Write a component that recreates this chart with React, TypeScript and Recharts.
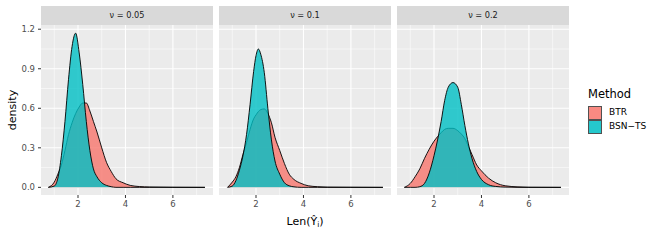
import { AreaChart, Area, XAxis, YAxis, CartesianGrid } from "recharts";

// density estimates, one grid of x values per facet
const P1_X = [0.75, 1.0, 1.15, 1.3, 1.45, 1.6, 1.75, 1.9, 2.05, 2.2, 2.35, 2.5, 2.65, 2.8, 3.0, 3.2, 3.4, 3.6, 3.9, 4.2, 4.6, 5.0, 6.0, 7.35];
const P1_BTR = [0, 0.04, 0.1, 0.17, 0.28, 0.4, 0.49, 0.56, 0.61, 0.64, 0.64, 0.58, 0.5, 0.42, 0.3, 0.19, 0.12, 0.065, 0.035, 0.015, 0.006, 0.003, 0.001, 0];
const P1_BSN = [0, 0.01, 0.07, 0.24, 0.5, 0.82, 1.07, 1.17, 1.02, 0.78, 0.5, 0.28, 0.14, 0.08, 0.035, 0.015, 0.005, 0, 0, 0, 0, 0, 0, 0];

const P2_X = [0.8, 1.0, 1.15, 1.3, 1.45, 1.6, 1.75, 1.9, 2.0, 2.1, 2.2, 2.35, 2.5, 2.65, 2.8, 3.0, 3.2, 3.4, 3.6, 3.9, 4.2, 4.6, 5.0, 6.0, 7.35];
const P2_BTR = [0, 0.04, 0.08, 0.15, 0.25, 0.34, 0.44, 0.52, 0.55, 0.575, 0.59, 0.595, 0.56, 0.49, 0.38, 0.28, 0.18, 0.1, 0.06, 0.03, 0.012, 0.005, 0.002, 0.001, 0];
const P2_BSN = [0, 0.01, 0.05, 0.13, 0.24, 0.4, 0.63, 0.88, 1.0, 1.05, 1.01, 0.87, 0.6, 0.36, 0.2, 0.1, 0.035, 0.012, 0.004, 0, 0, 0, 0, 0, 0];

const P3_X = [0.75, 1.0, 1.2, 1.4, 1.6, 1.8, 2.0, 2.15, 2.3, 2.45, 2.6, 2.8, 3.0, 3.15, 3.3, 3.45, 3.6, 3.8, 4.0, 4.3, 4.6, 5.0, 5.5, 6.0, 7.35];
const P3_BTR = [0, 0.03, 0.08, 0.14, 0.22, 0.29, 0.35, 0.385, 0.415, 0.44, 0.448, 0.448, 0.43, 0.405, 0.37, 0.31, 0.25, 0.17, 0.125, 0.07, 0.035, 0.012, 0.004, 0.001, 0];
const P3_BSN = [0, 0, 0, 0.005, 0.03, 0.11, 0.24, 0.36, 0.5, 0.66, 0.76, 0.795, 0.76, 0.63, 0.47, 0.33, 0.22, 0.12, 0.06, 0.02, 0.007, 0.002, 0, 0, 0];

const PANEL_LABELS = ["ν = 0.05", "ν = 0.1", "ν = 0.2"];
const METHODS = ["BTR", "BSN−TS"];

const X_TICKS = [2, 4, 6];
const X_MINOR = [1, 3, 5, 7];
const Y_TICKS = [0, 0.3, 0.6, 0.9, 1.2];
const Y_MINOR = [0.15, 0.45, 0.75, 1.05];

const X_DOMAIN = [0.44, 7.69];
const Y_DOMAIN = [-0.058, 1.232];

const RED = "#F8766D";
const TEAL = "#00BFC4";
const FONT = "'DejaVu Sans', sans-serif";

const toRows = (xs: number[], btr: number[], bsn: number[]) =>
  xs.map((x, i) => ({ x, btr: btr[i], bsn: bsn[i] }));

const PANELS = [
  toRows(P1_X, P1_BTR, P1_BSN),
  toRows(P2_X, P2_BTR, P2_BSN),
  toRows(P3_X, P3_BTR, P3_BSN),
];

const PLOT_W = 172;
const PLOT_TOP = 25;
const PLOT_H = 170;
const PANEL_LEFT = [41, 219, 397];
const Y_AXIS_W = 41;

const Panel = ({ data, showY }: { data: any[]; showY: boolean }) => (
  <AreaChart
    width={showY ? PLOT_W + Y_AXIS_W : PLOT_W}
    height={PLOT_TOP + PLOT_H + 20}
    data={data}
    margin={{ top: PLOT_TOP, right: 0, bottom: 0, left: 0 }}
  >
    <CartesianGrid
      stroke="#FFFFFF"
      strokeWidth={0.55}
      horizontalValues={Y_MINOR}
      verticalValues={X_MINOR}
    />
    <CartesianGrid
      stroke="#FFFFFF"
      strokeWidth={1.1}
      horizontalValues={Y_TICKS}
      verticalValues={X_TICKS}
    />
    <XAxis
      dataKey="x"
      type="number"
      domain={X_DOMAIN}
      allowDataOverflow
      ticks={X_TICKS}
      interval={0}
      height={20}
      axisLine={false}
      tickSize={3}
      tickMargin={3}
      tickLine={{ stroke: "#333333" }}
      tick={{ fontSize: 8.5, fill: "#4D4D4D", fontFamily: FONT }}
    />
    <YAxis
      type="number"
      domain={Y_DOMAIN}
      allowDataOverflow
      ticks={Y_TICKS}
      interval={0}
      hide={!showY}
      width={Y_AXIS_W}
      axisLine={false}
      tickSize={3}
      tickMargin={3}
      tickLine={{ stroke: "#333333" }}
      tickFormatter={(v: number) => v.toFixed(1)}
      tick={{ fontSize: 8.5, fill: "#4D4D4D", fontFamily: FONT }}
    />
    <Area
      type="monotone"
      dataKey="btr"
      baseValue={0}
      stroke="#000000"
      strokeWidth={0.9}
      fill={RED}
      fillOpacity={0.8}
      dot={false}
      activeDot={false}
      isAnimationActive={false}
    />
    <Area
      type="monotone"
      dataKey="bsn"
      baseValue={0}
      stroke="#000000"
      strokeWidth={0.9}
      fill={TEAL}
      fillOpacity={0.8}
      dot={false}
      activeDot={false}
      isAnimationActive={false}
    />
  </AreaChart>
);

export default function App() {
  return (
    <div
      style={{
        position: "absolute",
        left: 0,
        top: 0,
        width: 660,
        height: 240,
        background: "#FFFFFF",
        fontFamily: FONT,
        overflow: "hidden",
      }}
    >
      {PANELS.map((rows, i) => (
        <div key={i}>
          {/* panel background */}
          <div
            style={{
              position: "absolute",
              left: PANEL_LEFT[i],
              top: PLOT_TOP,
              width: PLOT_W,
              height: PLOT_H,
              background: "#EBEBEB",
            }}
          />
          {/* strip */}
          <div
            style={{
              position: "absolute",
              left: PANEL_LEFT[i],
              top: 6,
              width: PLOT_W,
              height: 19,
              background: "#D9D9D9",
              color: "#1A1A1A",
              fontSize: 8.2,
              lineHeight: "19px",
              textAlign: "center",
            }}
          >
            {PANEL_LABELS[i]}
          </div>
          <div
            style={{
              position: "absolute",
              left: i === 0 ? 0 : PANEL_LEFT[i],
              top: 0,
            }}
          >
            <Panel data={rows} showY={i === 0} />
          </div>
        </div>
      ))}

      {/* y axis title */}
      <div
        style={{
          position: "absolute",
          left: 12,
          top: 110,
          transform: "translate(-50%, -50%) rotate(-90deg)",
          fontSize: 11,
          color: "#000000",
          whiteSpace: "nowrap",
        }}
      >
        density
      </div>

      {/* x axis title */}
      <div
        style={{
          position: "absolute",
          left: 305,
          top: 222,
          transform: "translate(-50%, -50%)",
          fontSize: 11,
          color: "#000000",
          whiteSpace: "nowrap",
        }}
      >
        Len(Ŷ<sub style={{ fontSize: 7.5, verticalAlign: "-2px" }}>i</sub>)
      </div>

      {/* legend */}
      <div
        style={{
          position: "absolute",
          left: 588,
          top: 87,
          fontSize: 11.5,
          color: "#000000",
          lineHeight: "14px",
        }}
      >
        Method
      </div>
      {METHODS.map((m, i) => (
        <div key={m}>
          <div
            style={{
              position: "absolute",
              left: 588,
              top: 106 + i * 13.5,
              width: 12,
              height: 12,
              border: "0.8px solid #333333",
              background: i === 0 ? RED : TEAL,
              opacity: 0.85,
            }}
          />
          <div
            style={{
              position: "absolute",
              left: 609,
              top: 106 + i * 13.5,
              height: 13.5,
              lineHeight: "13.5px",
              fontSize: 9,
              color: "#000000",
            }}
          >
            {m}
          </div>
        </div>
      ))}
    </div>
  );
}
